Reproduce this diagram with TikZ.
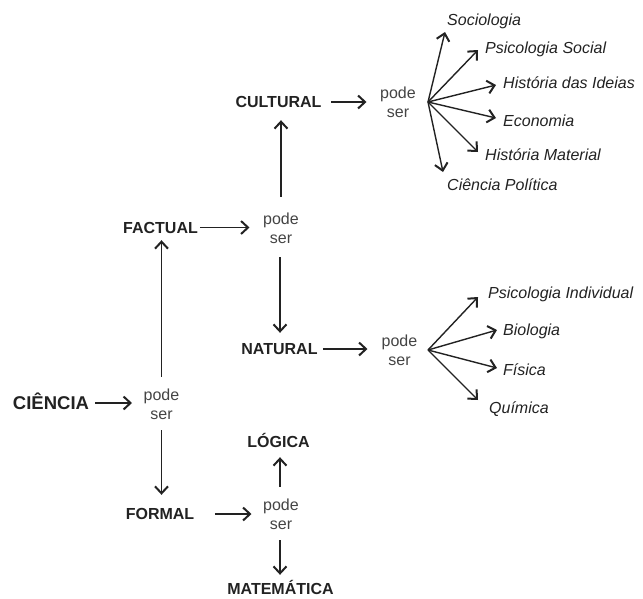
\documentclass[tikz,border=0pt]{standalone}
\usepackage{fontspec}
\setmainfont{Liberation Sans}
\usetikzlibrary{arrows.meta}
\definecolor{ink}{HTML}{222222}
\definecolor{soft}{HTML}{444444}
\begin{document}
\begin{tikzpicture}[x=1pt,y=-1pt,
  lbl/.style={font=\fontsize{16}{19}\selectfont\bfseries, text=ink, inner sep=0pt, text height=11.5pt, text depth=0pt},
  podeser/.style={font=\fontsize{16}{19}\selectfont, text=soft, inner sep=0pt, align=center},
  leaf/.style={font=\fontsize{16}{19}\selectfont\itshape, text=ink, inner sep=0pt, anchor=west, text height=11.5pt, text depth=0pt},
  arr/.style={draw=ink, line width=1.4pt, -{Straight Barb[length=7pt,width=13pt,line width=2pt]}}
]
\path[use as bounding box] (0,0) rectangle (643,598);

% main nodes
\node[lbl, font=\fontsize{18.5}{22}\selectfont\bfseries, text height=13.3pt] (ciencia) at (51,403) {CIÊNCIA};
\node[podeser] (pode1) at (161.5,404) {pode\\ser};
\node[lbl] (factual) at (160.5,227.5) {FACTUAL};
\node[lbl] (formal) at (160,514) {FORMAL};
\node[podeser] (podeF) at (281,514) {pode\\ser};
\node[lbl] (logica) at (278.5,442) {LÓGICA};
\node[lbl] (matematica) at (280.5,589) {MATEMÁTICA};
\node[podeser] (podeA) at (281,228) {pode\\ser};
\node[lbl] (cultural) at (278.5,102) {CULTURAL};
\node[lbl] (natural) at (279.5,349) {NATURAL};
\node[podeser] (podeC) at (398,102) {pode\\ser};
\node[podeser] (podeN) at (399.5,350) {pode\\ser};

% main arrows
\draw[arr, shorten <=6pt, shorten >=11.5pt] (ciencia.east) -- (ciencia.east -| pode1.west);
\draw[arr, shorten <=11.75pt, shorten >=6.75pt] (pode1.north) -- (pode1.north |- factual.south);
\draw[arr, shorten <=10.75pt, shorten >=13.25pt] (pode1.south) -- (pode1.south |- formal.north);
\draw[arr, shorten <=20.5pt, shorten >=11.5pt] (formal.east) -- (formal.east -| podeF.west);
\draw[arr, shorten <=11.75pt, shorten >=9.25pt] ([xshift=-1pt]podeF.north) -- ([xshift=-1pt]podeF.north |- logica.south);
\draw[arr, shorten <=10.75pt, shorten >=8.25pt] ([xshift=-1pt]podeF.south) -- ([xshift=-1pt]podeF.south |- matematica.north);
\draw[arr, shorten <=1.75pt, shorten >=13.5pt] (factual.east) -- (factual.east -| podeA.west);
\draw[arr, shorten <=15.75pt, shorten >=12.25pt] (podeA.north) -- (podeA.north |- cultural.south);
\draw[arr, shorten <=13.75pt, shorten >=10.25pt] ([xshift=-1pt]podeA.south) -- ([xshift=-1pt]podeA.south |- natural.north);
\draw[arr, shorten <=9.5pt, shorten >=13.5pt] (cultural.east) -- (cultural.east -| podeC.west);
\draw[arr, shorten <=5pt, shorten >=14pt] (natural.east) -- (natural.east -| podeN.west);

% cultural fan
\coordinate (fanC) at (428,102);
\node[leaf] (soc) at (447,20) {Sociologia};
\node[leaf] (psoc) at (485,48) {Psicologia Social};
\node[leaf] (hid) at (503,83) {História das Ideias};
\node[leaf] (eco) at (503,121) {Economia};
\node[leaf] (hmat) at (485,155) {História Material};
\node[leaf] (cpol) at (447,185) {Ciência Política};
\coordinate (tSoc) at (445,32);
\coordinate (tPsoc) at (478,50);
\coordinate (tHid) at (496,85);
\coordinate (tEco) at (496,118);
\coordinate (tHmat) at (478,152);
\coordinate (tCpol) at (443,172);
\foreach \t in {tSoc,tPsoc,tHid,tEco,tHmat,tCpol}
  \draw[arr] (fanC) -- (\t);

% natural fan
\coordinate (fanN) at (428,350);
\node[leaf] (pind) at (488,293) {Psicologia Individual};
\node[leaf] (bio) at (503,330) {Biologia};
\node[leaf] (fis) at (503,370) {Física};
\node[leaf] (qui) at (489,408) {Química};
\coordinate (tPind) at (478,297);
\coordinate (tBio) at (497,330);
\coordinate (tFis) at (497,368);
\coordinate (tQui) at (478,400);
\foreach \t in {tPind,tBio,tFis,tQui}
  \draw[arr] (fanN) -- (\t);
\end{tikzpicture}
\end{document}
